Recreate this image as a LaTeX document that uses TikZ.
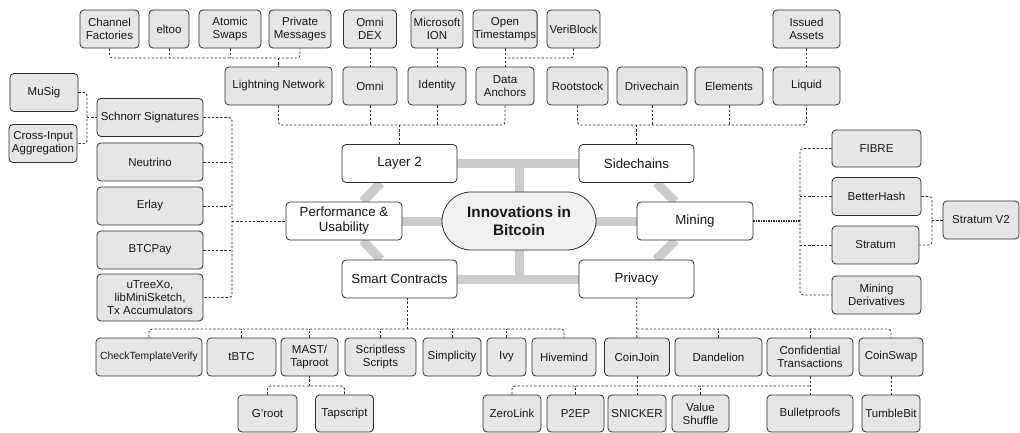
\documentclass[tikz,border=0pt]{standalone}
\usepackage{fontspec}
\setmainfont{Liberation Sans}
\usetikzlibrary{backgrounds}
\definecolor{kidgray}{HTML}{E6E6E6}
\definecolor{hubgray}{HTML}{F0F0F0}
\definecolor{bargray}{HTML}{CCCCCC}
\definecolor{edgegray}{HTML}{2E2E2E}
\newcommand\kidfont{\fontsize{11.5}{13}\selectfont}
\newcommand\topicfont{\fontsize{13.3}{15}\selectfont}
\newcommand\hubfont{\fontsize{15.3}{18}\selectfont\bfseries}
\tikzset{kid/.style={draw=edgegray,fill=kidgray,rounded corners=4pt,line width=0.8pt,
		align=center,inner sep=1pt,minimum height=38pt,font=\kidfont,text=black!90},
	topic/.style={kid,fill=white,minimum width=115pt,font=\topicfont},
	hub/.style={kid,fill=hubgray,rounded corners=29pt,minimum width=154pt,
		minimum height=58pt,font=\hubfont},
	link/.style={draw=edgegray,line width=0.8pt,dash pattern=on 2.4pt off 1.8pt,
		rounded corners=3pt},
	thicklink/.style={link,line width=1.3pt,dash pattern=on 1.4pt off 1.1pt},
	bar/.style={draw=bargray,line width=9pt}}

\begin{document}
\begin{tikzpicture}[x=1pt,y=-1pt]
\useasboundingbox (0,0) rectangle (1020,433);
% hub and topics
\node [hub] (innov) at (519,221) {Innovations in\\Bitcoin};
\node [topic] (l2) at (399.5,163.5) {Layer 2};
\node [topic] (sc) at (636.5,163.5) {Sidechains};
\node [topic,minimum width=116pt] (perf) at (344,221) {Performance \&\\Usability};
\node [topic,minimum width=116pt] (mining) at (695,221) {Mining};
\node [topic] (smart) at (399.5,279) {Smart Contracts};
\node [topic] (priv) at (636.5,279) {Privacy};

% top rows
\node [kid,minimum width=59pt] (cf) at (109.5,29) {Channel\\Factories};
\node [kid,minimum width=40pt] (eltoo) at (169,29) {eltoo};
\node [kid,minimum width=62pt] (as) at (230,29) {Atomic\\Swaps};
\node [kid,minimum width=62pt] (pm) at (300,29) {Private\\Messages};
\node [kid,minimum width=53pt] (odex) at (370,29) {Omni\\DEX};
\node [kid,minimum width=52pt] (ion) at (437,29) {Microsoft\\ION};
\node [kid,minimum width=63pt] (ots) at (505,29) {Open\\Timestamps};
\node [kid,minimum width=53pt] (vb) at (573.5,29) {VeriBlock};
\node [kid,minimum width=67pt] (ia) at (806.5,29) {Issued\\Assets};

\node [kid,minimum width=107pt] (ln) at (278.5,86) {Lightning Network};
\node [kid,minimum width=54pt] (omni) at (370,86) {Omni};
\node [kid,minimum width=58pt] (ident) at (437,86) {Identity};
\node [kid,minimum width=58pt] (da) at (505,86) {Data\\Anchors};
\node [kid,minimum width=61pt] (rsk) at (577.5,86) {Rootstock};
\node [kid,minimum width=70pt] (dc) at (652,86) {Drivechain};
\node [kid,minimum width=68pt] (el) at (729,86) {Elements};
\node [kid,minimum width=67pt] (liq) at (806.5,86) {Liquid};

% left column
\node [kid,minimum width=68pt] (musig) at (44,92.5) {MuSig};
\node [kid,minimum width=68pt] (cia) at (43,143.5) {Cross-Input\\Aggregation};
\node [kid,minimum width=106pt] (schnorr) at (150,117.5) {Schnorr Signatures};
\node [kid,minimum width=106pt] (neut) at (150,162) {Neutrino};
\node [kid,minimum width=106pt] (erlay) at (150,206) {Erlay};
\node [kid,minimum width=106pt] (btcpay) at (150,250) {BTCPay};
\node [kid,minimum width=106pt,minimum height=47pt] (utxo) at (150,297.5)
	{uTreeXo,\\libMiniSketch,\\Tx Accumulators};

% right column
\node [kid,minimum width=89pt,minimum height=37pt] (fibre) at (876.5,148.5) {FIBRE};
\node [kid,minimum width=89pt] (bh) at (876.5,196.5) {BetterHash};
\node [kid,minimum width=87pt] (strat) at (875.5,245) {Stratum};
\node [kid,minimum width=89pt] (md) at (876.5,295) {Mining\\Derivatives};
\node [kid,minimum width=76pt] (sv2) at (981,220) {Stratum V2};

% bottom rows
\node [kid,minimum width=106pt,font=\fontsize{10.4}{12}\selectfont] (ctv) at (149,357)
	{CheckTemplateVerify};
\node [kid,minimum width=69pt] (tbtc) at (241.5,357) {tBTC};
\node [kid,minimum width=57pt] (mast) at (309.5,357) {MAST/\\Taproot};
\node [kid,minimum width=71pt] (ss) at (380.5,357) {Scriptless\\Scripts};
\node [kid,minimum width=58pt] (simp) at (452,357) {Simplicity};
\node [kid,minimum width=39pt] (ivy) at (506.5,357) {Ivy};
\node [kid,minimum width=64pt] (hive) at (564,357) {Hivemind};
\node [kid,minimum width=65pt] (cj) at (637,357) {CoinJoin};
\node [kid,minimum width=87pt] (dand) at (718.5,357) {Dandelion};
\node [kid,minimum width=86pt] (ct) at (810,357) {Confidential\\Transactions};
\node [kid,minimum width=64pt] (cs) at (891,357) {CoinSwap};

\node [kid,minimum width=59pt,minimum height=37pt] (groot) at (267.5,413.5) {G'root};
\node [kid,minimum width=58pt,minimum height=37pt] (taps) at (344.5,413.5) {Tapscript};
\node [kid,minimum width=58pt,minimum height=37pt] (zl) at (512,413.5) {ZeroLink};
\node [kid,minimum width=57pt,minimum height=37pt] (p2ep) at (575.5,413.5) {P2EP};
\node [kid,minimum width=58pt,minimum height=37pt] (snick) at (637,413.5) {SNICKER};
\node [kid,minimum width=57pt,minimum height=37pt] (vs) at (700.5,413.5) {Value\\Shuffle};
\node [kid,minimum width=86pt,minimum height=37pt] (bp) at (810,413.5) {Bulletproofs};
\node [kid,minimum width=58pt,minimum height=37pt] (tb) at (891,413.5) {TumbleBit};

% thick grey frame behind the topics
\begin{scope}[on background layer]
\draw [bar] (l2) -- (sc);
\draw [bar] (smart) -- (priv);
\draw [bar] (perf) -- (innov) -- (mining);
\draw [bar] (innov.north) -- (innov.north |- l2.center);
\draw [bar] (innov.south) -- (innov.south |- smart.center);
\draw [bar] (l2) -- (perf) -- (smart);
\draw [bar] (sc) -- (mining) -- (priv);
\end{scope}

% junctions
\coordinate (lnj) at (278.5,58);
\coordinate (l2j) at (399.5,125);
\coordinate (daj) at (505,58);
\coordinate (scj) at (636.5,125);
\coordinate (sgj) at (87,117.5);
\coordinate (pfj) at (232,221);
\coordinate (mnj) at (800,221);
\coordinate (svj) at (932,220);
\coordinate (smj) at (407,329);
\coordinate (pvj) at (637,329);
\coordinate (msj) at (309.5,386);
\coordinate (cjj) at (637,386);
\coordinate (ctj) at (810,386);

% layer 2 and sidechains
\draw [link] (cf.south) |- (lnj) -| (pm.south);
\foreach \k in {eltoo,as}
	\draw [link] (\k.south) -- (\k.south |- lnj);
\draw [link] (lnj) -- (ln.north);
\draw [link] (ln.south) |- (l2j) -| (da.south);
\foreach \k in {omni,ident}
	\draw [link] (\k.south) -- (\k.south |- l2j);
\draw [link] (l2j) -- (l2.north);
\draw [link] (rsk.south) |- (scj) -| (liq.south);
\foreach \k in {dc,el}
	\draw [link] (\k.south) -- (\k.south |- scj);
\draw [link] (scj) -- (sc.north);
\draw [link] (odex) -- (omni);
\draw [link] (ion) -- (ident);
\draw [link] (ots) -- (da);
\draw [link] (vb.south) |- (daj);
\draw [link] (ia) -- (liq);

% performance
\draw [link] (musig.east) -| (sgj) |- (cia.east);
\draw [link] (sgj) -- (schnorr.west);
\draw [link] (schnorr.east) -| (pfj) |- (utxo.east);
\foreach \k in {neut,erlay,btcpay}
	\draw [link] (\k.east) -- (\k.east -| pfj);
\draw [link] (pfj) -- (perf.west);

% mining
\draw [thicklink] (mining.east) -- (mnj);
\draw [link] (fibre.west) -| (mnj) |- (md.west);
\foreach \k in {bh,strat}
	\draw [link] (\k.west) -- (\k.west -| mnj);
\draw [link] (bh.east) -| (svj) |- (strat.east);
\draw [link] (svj) -- (sv2.west);

% smart contracts and privacy
\draw [link] (ctv.north) |- (smj) -| (hive.north);
\foreach \k in {tbtc,mast,ss,simp,ivy}
	\draw [link] (\k.north) -- (\k.north |- smj);
\draw [link] (smj) -- (smj |- smart.south);
\draw [link] (cj) -- (priv);
\draw [link] (pvj) -| (cs.north);
\foreach \k in {dand,ct}
	\draw [link] (\k.north) -- (\k.north |- pvj);
\draw [link] (groot.north) |- (msj) -| (taps.north);
\draw [link] (msj) -- (mast.south);
\draw [link] (zl.north) |- (ctj);
\foreach \k in {p2ep,vs}
	\draw [link] (\k.north) -- (\k.north |- cjj);
\draw [link] (cj) -- (snick);
\draw [link] (ct) -- (bp);
\draw [link] (cs) -- (tb);
\end{tikzpicture}
\end{document}
